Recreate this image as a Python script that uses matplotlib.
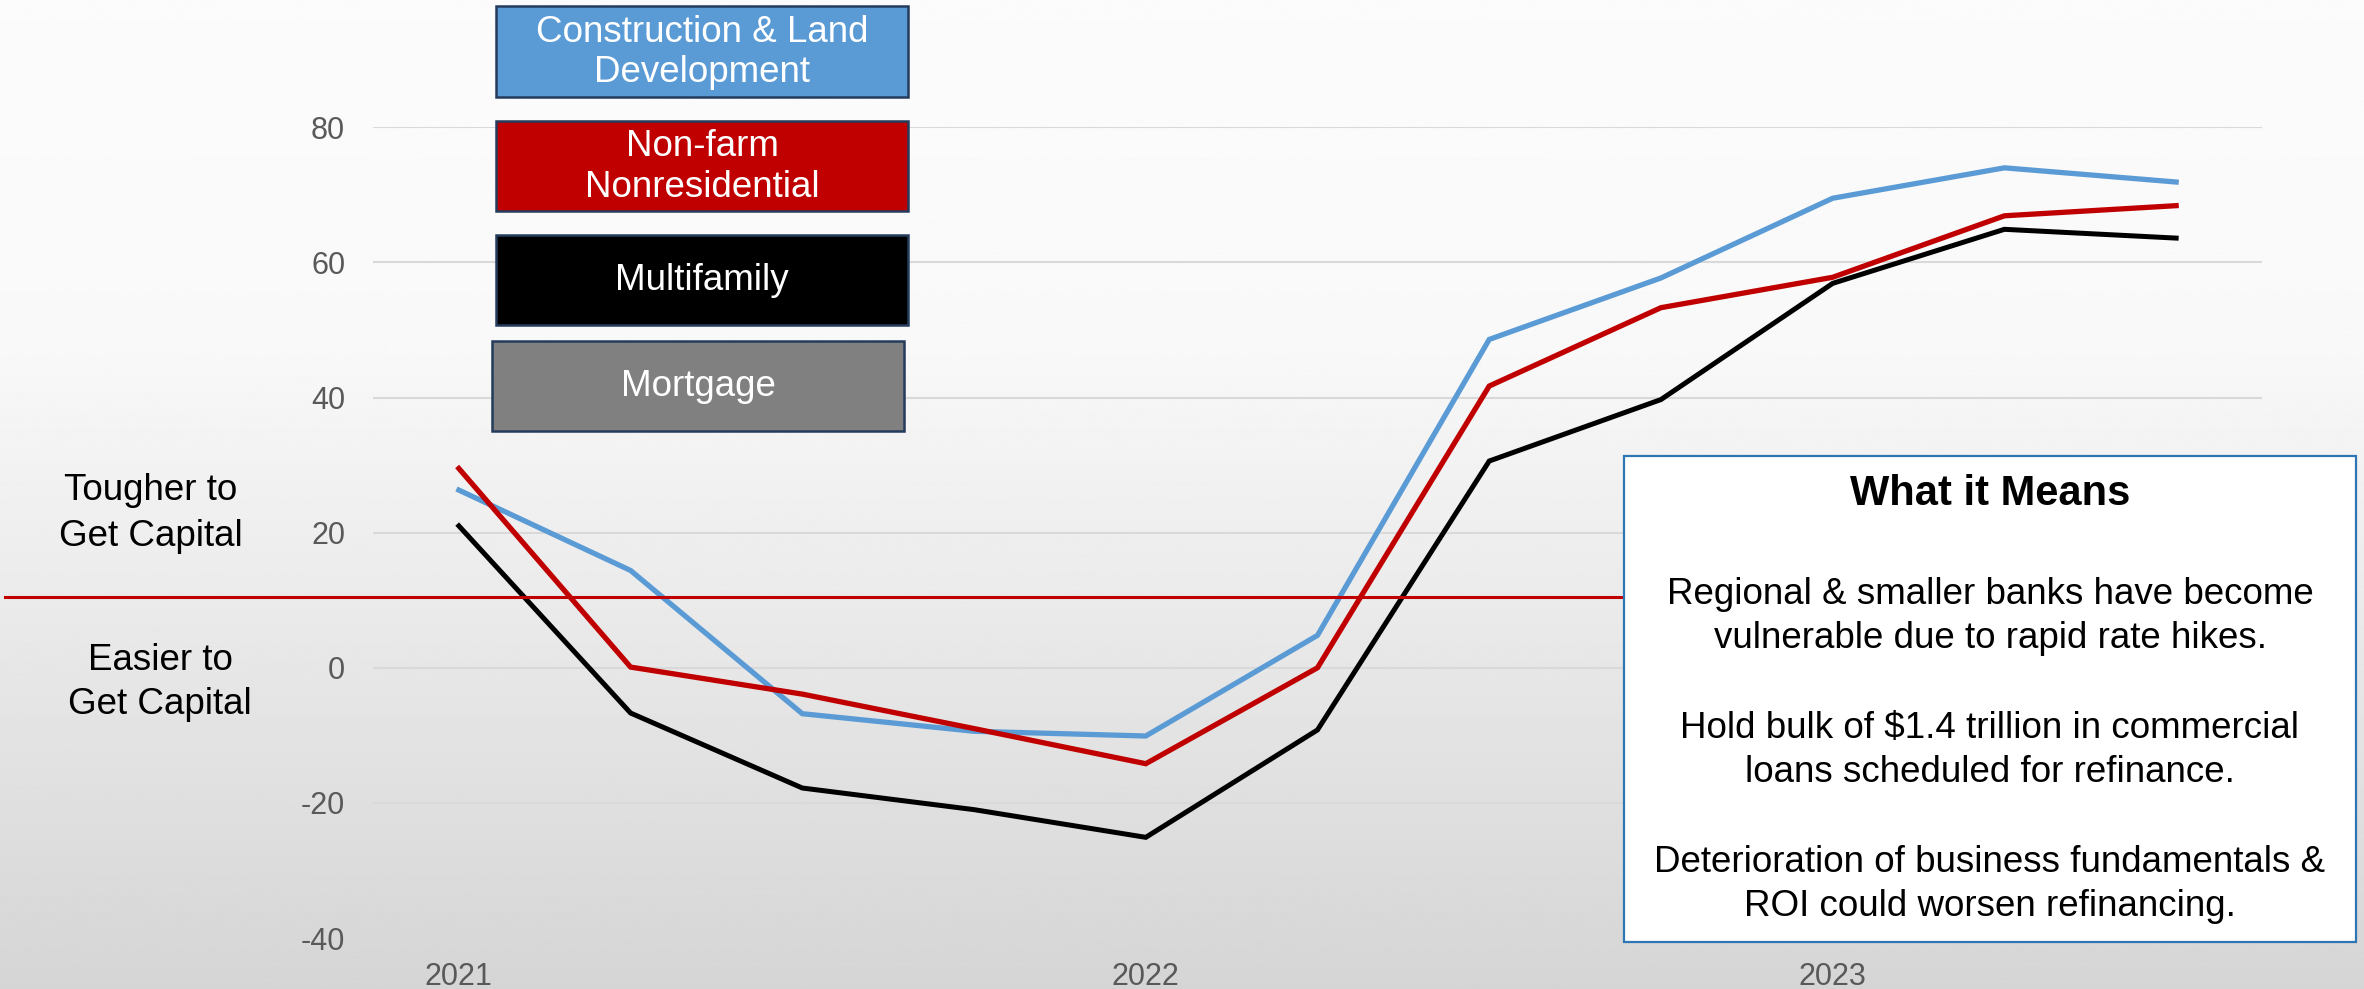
import numpy as np
import matplotlib.pyplot as plt
from matplotlib.patches import Rectangle
from matplotlib.lines import Line2D
import matplotlib.transforms as mtransforms

plt.rcParams['font.family'] = ['Liberation Sans', 'DejaVu Sans']

# quarterly survey readings, 2021 Q1 .. 2023 Q3
quarters = ['2021Q1', '2021Q2', '2021Q3', '2021Q4',
            '2022Q1', '2022Q2', '2022Q3', '2022Q4',
            '2023Q1', '2023Q2', '2023Q3']
construction = [26.3, 14.4, -6.8, -9.4, -10.1, 4.8, 48.6, 57.7, 69.5, 74.0, 71.9]
nonfarm = [29.5, 0.1, -3.9, -9.0, -14.2, 0.0, 41.7, 53.3, 57.8, 66.9, 68.4]
multifamily = [21.0, -6.7, -17.8, -21.0, -25.1, -9.2, 30.6, 39.7, 56.9, 64.9, 63.6]

year_ticks = [0, 4, 8]
year_labels = ['2021', '2022', '2023']
y_ticks = [-40, -20, 0, 20, 40, 60, 80]
threshold = 10.5

legend_labels = ['Construction & Land\nDevelopment', 'Non-farm\nNonresidential',
                 'Multifamily', 'Mortgage']
legend_colors = ['#5B9BD5', '#C00000', '#000000', '#808080']

notes_title = 'What it Means'
notes = ['Regional & smaller banks have become',
         'vulnerable due to rapid rate hikes.',
         'Hold bulk of $1.4 trillion in commercial',
         'loans scheduled for refinance.',
         'Deterioration of business fundamentals &',
         'ROI could worsen refinancing.']

W, H = 2364, 989
fig = plt.figure(figsize=(W / 100, H / 100), dpi=100)


def px(x, y):
    # pixel position (from top-left) -> figure fraction
    return x / W, 1 - y / H


# soft grey gradient behind everything
bg = fig.add_axes([0, 0, 1, 1], zorder=-5)
rows = np.linspace(0, 1, 400)
shade = np.interp(rows, [0, 0.35, 1.0], [0.985, 0.975, 0.835])
bg.imshow(np.tile(shade[:, None], (1, 2)), aspect='auto', cmap='gray',
          vmin=0, vmax=1, extent=[0, 1, 0, 1])
bg.set_axis_off()

ax = fig.add_axes([373 / W, 51 / H, (2262 - 373) / W, (938 - 127.3) / H])
ax.patch.set_alpha(0)
x = np.arange(len(quarters))
ax.plot(x, construction, color='#5B9BD5', lw=3.8, solid_joinstyle='miter')
ax.plot(x, nonfarm, color='#C00000', lw=3.8, solid_joinstyle='miter')
ax.plot(x, multifamily, color='#000000', lw=3.6, solid_joinstyle='miter')

ax.set_xlim(-0.5, len(quarters) - 0.5)
ax.set_ylim(-40, 80)
ax.set_yticks(y_ticks)
ax.set_yticklabels([str(v) for v in y_ticks])
ax.set_xticks(year_ticks)
ax.set_xticklabels(year_labels)
ax.tick_params(axis='y', length=0, pad=20, labelsize=22, labelcolor='#595959')
ax.tick_params(axis='x', length=0, pad=17, labelsize=22, labelcolor='#595959')
ax.grid(axis='y', color='#D9D9D9', lw=1.5)
ax.set_axisbelow(True)
for s in ax.spines.values():
    s.set_visible(False)

# easier / tougher divider across the page
tr = mtransforms.blended_transform_factory(fig.transFigure, ax.transData)
fig.add_artist(Line2D([5 / W, 1624 / W], [threshold, threshold], transform=tr,
                      color='#C00000', lw=2.2, zorder=5))

for lbl, cy, cx in [('Tougher to', 491, 151), ('Get Capital', 536, 151),
                    ('Easier to', 660, 160), ('Get Capital', 705, 160)]:
    fig.text(*px(cx, cy), lbl, ha='center', va='center', fontsize=26.5, color='black')

# series key boxes
boxes = [(496, 6, 908, 97), (496, 121, 908, 211), (496, 235, 908, 325), (492, 341, 904, 431)]
for (x0, y0, x1, y1), lbl, col in zip(boxes, legend_labels, legend_colors):
    fig.add_artist(Rectangle(px(x0, y1), (x1 - x0) / W, (y1 - y0) / H,
                             transform=fig.transFigure, facecolor=col,
                             edgecolor='#243B5C', lw=1.8, zorder=6))
    fig.text(*px((x0 + x1) / 2, (y0 + y1) / 2 + 1), lbl, ha='center', va='center',
             fontsize=26.5, color='white', linespacing=1.2, zorder=7)

# commentary panel
fig.add_artist(Rectangle(px(1624, 942), (2356 - 1624) / W, (942 - 456) / H,
                         transform=fig.transFigure, facecolor='white',
                         edgecolor='#2E75B6', lw=1.6, zorder=6))
fig.text(*px(1990, 494), notes_title, ha='center', va='center', fontsize=30,
         fontweight='bold', zorder=7)
for line, cy in zip(notes, [594, 639, 728, 772, 862, 906]):
    fig.text(*px(1990, cy), line, ha='center', va='center', fontsize=26.5, zorder=7)

fig.savefig('out.png', dpi=100)
